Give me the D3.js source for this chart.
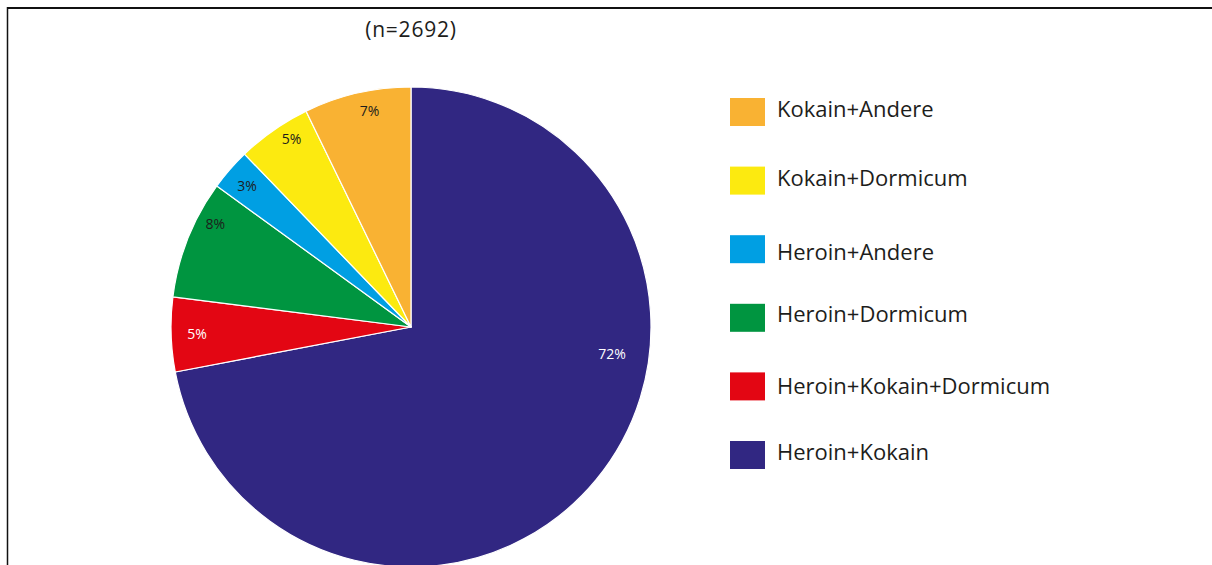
<!DOCTYPE html>
<html>
<head>
<meta charset="utf-8">
<script src="https://cdn.jsdelivr.net/npm/d3@7"></script>
<style>
  html, body { margin: 0; padding: 0; background: #fff; }
  svg { display: block; font-family: "Open Sans", "Noto Sans", sans-serif; }
</style>
</head>
<body>
<svg id="chart" width="1212" height="565"></svg>
<script>
  // Slices, clockwise from 12 o'clock (share in %, n=2692)
  const categories = [
    "Heroin+Kokain",
    "Heroin+Kokain+Dormicum",
    "Heroin+Dormicum",
    "Heroin+Andere",
    "Kokain+Dormicum",
    "Kokain+Andere"
  ];
  const values = [72.0, 5.0, 8.0, 2.8, 5.0, 7.2];
  const labels = ["72%", "5%", "8%", "3%", "5%", "7%"];
  const colors = ["#312782", "#e30613", "#009540", "#009fe3", "#fcea10", "#f9b233"];
  const legendOrder = [
    "Kokain+Andere",
    "Kokain+Dormicum",
    "Heroin+Andere",
    "Heroin+Dormicum",
    "Heroin+Kokain+Dormicum",
    "Heroin+Kokain"
  ];
  const subtitle = "(n=2692)";

  const CX = 411, CY = 327, R = 240;

  // label placement inside each slice: fraction of the slice's angle, radius
  const LABEL_AT = {
    "Heroin+Kokain": [0.377, 203],
    "Heroin+Kokain+Dormicum": [0.5, 214],
    "Heroin+Dormicum": [0.71, 221],
    "Heroin+Andere": [0.46, 216],
    "Kokain+Dormicum": [0.64, 223],
    "Kokain+Andere": [0.58, 220]
  };
  const WHITE_TEXT = new Set(["Heroin+Kokain", "Heroin+Kokain+Dormicum"]);
  // the source legend's text rows are not evenly aligned with the swatches
  const LEGEND_NUDGE = { "Heroin+Andere": 5.5, "Heroin+Dormicum": -0.8, "Heroin+Kokain+Dormicum": 2 };

  const svg = d3.select("#chart");
  const color = d3.scaleOrdinal().domain(categories).range(colors);

  // frame (top and left edge only are visible)
  svg.append("line").attr("x1", 7).attr("x2", 1212).attr("y1", 8).attr("y2", 8)
    .attr("stroke", "#111").attr("stroke-width", 2);
  svg.append("line").attr("x1", 7.5).attr("x2", 7.5).attr("y1", 7).attr("y2", 565)
    .attr("stroke", "#111").attr("stroke-width", 1.5);

  svg.append("text")
    .attr("x", CX).attr("y", 37)
    .attr("text-anchor", "middle")
    .attr("font-size", 21)
    .attr("letter-spacing", 0.8)
    .attr("fill", "#1d1d1b")
    .text(subtitle);

  const rows = categories.map((c, i) => ({ cat: c, value: values[i], label: labels[i] }));

  const pie = d3.pie().sort(null).value((d) => d.value);
  const arcs = pie(rows);
  const arc = d3.arc().innerRadius(0).outerRadius(R);

  const g = svg.append("g").attr("transform", `translate(${CX},${CY})`);

  g.selectAll("path.slice")
    .data(arcs)
    .join("path")
    .attr("class", "slice")
    .attr("d", arc)
    .attr("fill", (d) => color(d.data.cat))
    .attr("stroke", "#fff")
    .attr("stroke-width", 1.2)
    .attr("stroke-linejoin", "round");

  g.selectAll("text.lbl")
    .data(arcs)
    .join("text")
    .attr("class", "lbl")
    .attr("transform", (d) => {
      const [f, r] = LABEL_AT[d.data.cat];
      const a = d.startAngle + (d.endAngle - d.startAngle) * f;
      return `translate(${Math.sin(a) * r},${-Math.cos(a) * r})`;
    })
    .attr("text-anchor", "middle")
    .attr("dy", "0.36em")
    .attr("font-size", 14)
    .attr("fill", (d) => (WHITE_TEXT.has(d.data.cat) ? "#fff" : "#1d1d1b"))
    .text((d) => d.data.label);

  // legend
  const ly = d3.scalePoint().domain(legendOrder).range([112, 455]);
  const leg = svg.append("g")
    .selectAll("g.leg")
    .data(legendOrder)
    .join("g")
    .attr("class", "leg")
    .attr("transform", (d) => `translate(730,${ly(d)})`);

  leg.append("rect")
    .attr("x", 0).attr("y", -14)
    .attr("width", 35).attr("height", 28)
    .attr("fill", (d) => color(d));

  leg.append("text")
    .attr("x", 47).attr("y", (d) => 5.3 + (LEGEND_NUDGE[d] || 0))
    .attr("font-size", 22)
    .attr("fill", "#1d1d1b")
    .text((d) => d);
</script>
</body>
</html>
